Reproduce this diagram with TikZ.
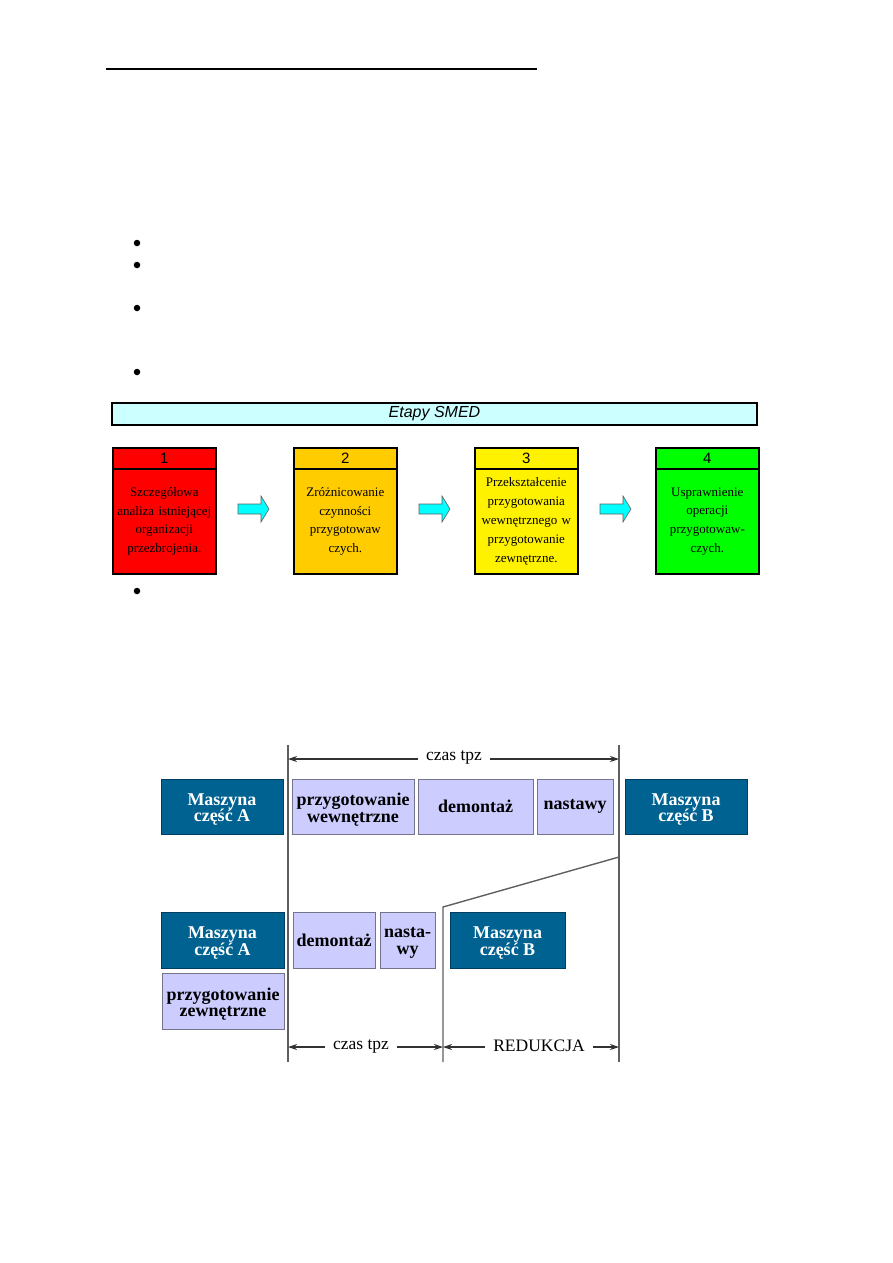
\documentclass[tikz,border=0pt]{standalone}
\usepackage{fontspec}
\setmainfont{Liberation Serif}
\newfontfamily\arialf{Liberation Sans}
\usetikzlibrary{arrows.meta}
\definecolor{smedcyan}{RGB}{204,255,255}
\definecolor{stagetwo}{RGB}{255,204,0}
\definecolor{stagefour}{RGB}{0,255,0}
\definecolor{mach}{RGB}{0,98,145}
\definecolor{machborder}{RGB}{0,60,95}
\definecolor{lilac}{RGB}{204,204,255}
\definecolor{lilacborder}{RGB}{115,115,140}
\definecolor{arrowcyan}{RGB}{0,255,255}
\definecolor{rulegray}{RGB}{95,95,95}
\definecolor{dimgray}{RGB}{50,50,50}
\begin{document}
\begin{tikzpicture}[x=1pt,y=-1pt,
  bulletdot/.style={circle,fill=black,inner sep=0pt,minimum size=6.5pt},
  stagehead/.style={draw=black,line width=1.6pt,anchor=north west,minimum width=103pt,minimum height=21pt,inner sep=0pt,font=\arialf\fontsize{15}{17}\selectfont},
  stagebody/.style={draw=black,line width=1.6pt,anchor=north west,minimum width=103pt,minimum height=105pt,inner sep=0pt,align=center,text width=102pt,font=\fontsize{13}{18.8}\selectfont},
  blockarr/.style={fill=arrowcyan,draw=rulegray,line width=0.6pt},
  boxfont/.style={font=\bfseries\fontsize{18}{16.5}\selectfont},
  machbox/.style={fill=mach,draw=machborder,line width=0.8pt,text=white,align=center,inner sep=0pt,boxfont},
  lilbox/.style={fill=lilac,draw=lilacborder,line width=0.8pt,text=black,align=center,inner sep=0pt,boxfont},
  whitetext/.style={text=white,align=center,inner sep=0pt,boxfont,yshift=-3pt},
  blacktext/.style={text=black,align=center,inner sep=0pt,boxfont,yshift=-3pt},
  vline/.style={draw=rulegray,line width=1.4pt},
  dimline/.style={draw=dimgray,line width=1.1pt,{Stealth[length=9pt,width=6pt]}-{Stealth[length=9pt,width=6pt]}},
  dimlabel/.style={fill=white,inner xsep=8pt,inner ysep=1pt,font=\fontsize{17.5}{18}\selectfont}
]
\useasboundingbox (0,0) rectangle (893,1263);
% top rule
\coordinate (ruleL) at (106,69);
\coordinate (ruleR) at (537,69);
\draw[line width=1.3pt] (ruleL) -- (ruleR);
% bullets
\node[bulletdot] (bu1) at (137,243) {};
\node[bulletdot] (bu2) at (137,265) {};
\node[bulletdot] (bu3) at (137,308) {};
\node[bulletdot] (bu4) at (137,372) {};
\node[bulletdot] (bu5) at (137,591) {};
% SMED header bar
\node[draw=black,line width=1.4pt,fill=smedcyan,minimum width=645pt,minimum height=22pt,inner sep=0pt,
  font=\arialf\itshape\fontsize{16}{18}\selectfont] (bar) at (434.5,414) {Etapy SMED};
% stages
\node[stagehead,fill=red] (h1) at (112,447) {1};
\node[stagebody,fill=red] (b1) at (112,468) {Szczegółowa\\analiza istniejącej\\organizacji\\przezbrojenia.};
\node[stagehead,fill=stagetwo] (h2) at (293,447) {2};
\node[stagebody,fill=stagetwo] (b2) at (293,468) {Zróżnicowanie\\czynności\\przygotowaw\\czych.};
\node[stagehead,fill=yellow] (h3) at (474,447) {3};
\node[stagebody,fill=yellow] (b3) at (474,468) {Przekształcenie\\przygotowania\\wewnętrznego w\\przygotowanie\\zewnętrzne.};
\node[stagehead,fill=stagefour] (h4) at (655,447) {4};
\node[stagebody,fill=stagefour] (b4) at (655,468) {Usprawnienie\\operacji\\przygotowaw-\\czych.};
% block arrows
\foreach \xo in {238,419,600}{
  \draw[blockarr] (\xo,504) -- (\xo+23,504) -- (\xo+23,496) -- (\xo+31,509) -- (\xo+23,522) -- (\xo+23,514) -- (\xo,514) -- cycle;
}
% bottom diagram: vertical lines
\coordinate (vLtop) at (288,745);
\coordinate (vLbot) at (288,1062);
\coordinate (vRtop) at (619,745);
\coordinate (vRbot) at (619,1062);
\coordinate (vMbot) at (443,1062);
\coordinate (vMtop) at (443,907);
\coordinate (slantR) at (619,857);
\draw[vline] (vLtop) -- (vLbot);
\draw[vline] (vRtop) -- (vRbot);
\draw[vline] (vMbot) -- (vMtop) -- (slantR);
% top row
\node[machbox,minimum width=122pt,minimum height=55pt,label={[whitetext]center:{Maszyna\\część A}}] (mA1) at (222,806.5) {};
\node[lilbox,minimum width=122pt,minimum height=55pt,label={[blacktext]center:{przygotowanie\\wewnętrzne}}] (pw) at (353,806.5) {};
\node[lilbox,minimum width=115pt,minimum height=55pt] (dm1) at (475.5,806.5) {demontaż};
\node[lilbox,minimum width=76pt,minimum height=55pt] (ns1) at (575,806.5) {nastawy};
\node[machbox,minimum width=122pt,minimum height=55pt,label={[whitetext]center:{Maszyna\\część B}}] (mB1) at (686,806.5) {};
% second row
\node[machbox,minimum width=123pt,minimum height=56pt,label={[whitetext]center:{Maszyna\\część A}}] (mA2) at (222.5,940) {};
\node[lilbox,minimum width=82pt,minimum height=56pt] (dm2) at (334,940) {demontaż};
\node[lilbox,minimum width=55pt,minimum height=56pt,label={[blacktext]center:{nasta-\\wy}}] (ns2) at (407.5,940) {};
\node[machbox,minimum width=115pt,minimum height=56pt,label={[whitetext]center:{Maszyna\\część B}}] (mB2) at (507.5,940) {};
\node[lilbox,minimum width=122pt,minimum height=56pt,label={[blacktext]center:{przygotowanie\\zewnętrzne}}] (pz) at (223,1001) {};
% dimension arrows
\coordinate (d1L) at (288,759);
\coordinate (d1R) at (619,759);
\coordinate (d2L) at (288,1047);
\coordinate (d2M) at (443,1047);
\coordinate (d2R) at (619,1047);
\draw[dimline] (d1L) -- (d1R);
\node[dimlabel] (t1) at (454,757) {czas tpz};
\draw[dimline] (d2L) -- (d2M);
\node[dimlabel] (t2) at (361,1046) {czas tpz};
\draw[dimline] (d2M) -- (d2R);
\node[dimlabel] (t3) at (539,1046) {REDUKCJA};
\end{tikzpicture}
\end{document}
